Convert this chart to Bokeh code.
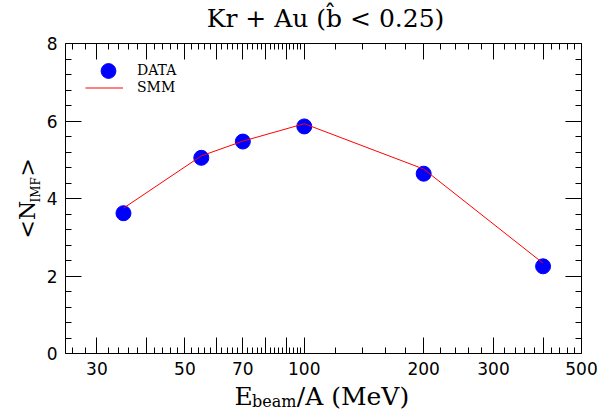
import math
from bokeh.plotting import figure
from bokeh.models import FixedTicker, LogAxis, LinearAxis, Label, Legend, LegendItem
from bokeh.embed import file_html
from bokeh.resources import INLINE

# ---- data ----
energy = [35, 55, 70, 100, 200, 400]            # E_beam/A (MeV)
data_nimf = [3.62, 5.05, 5.47, 5.86, 4.64, 2.25]
smm_nimf = [3.75, 5.10, 5.48, 5.93, 4.76, 2.33]

x_major = [30, 40, 50, 60, 70, 80, 90, 100, 200, 300, 400, 500]
x_labels = {30: "30", 40: "", 50: "50", 60: "", 70: "70", 80: "", 90: "",
            100: "100", 200: "200", 300: "300", 400: "", 500: "500"}
x_minor = ([26, 28] + [v for v in range(32, 100, 2) if v % 10 != 0]
           + [120, 140, 160, 180]
           + [v for v in range(220, 500, 20) if v % 100 != 0])
y_major = [0, 2, 4, 6, 8]
y_minor = [round(0.4 * i, 1) for i in range(1, 20) if i % 5 != 0]

X_MIN, X_MAX = 25, 500
Y_MIN, Y_MAX = 0, 8

title_text = "Kr + Au (b\u0302 < 0.25)"

# ---- geometry: the drawn box sits at these page pixels ----
W, H = 609, 414
FX0, FX1, FY0, FY1 = 65, 581, 43, 353
BASE_SHIFT = 9   # labels render this many px below the requested baseline


def sx(px):
    lo, hi = math.log10(X_MIN), math.log10(X_MAX)
    return 10 ** (lo + (px - FX0) / (FX1 - FX0) * (hi - lo))


def sy(py):
    return Y_MAX - (py - FY0) / (FY1 - FY0) * (Y_MAX - Y_MIN)


# the frame spans the whole canvas; axes are pinned at the box edges
p = figure(width=W, height=H, x_axis_type="log",
           x_range=(sx(0), sx(W)), y_range=(sy(H), sy(0)),
           output_backend="svg", toolbar_location=None,
           min_border=0)
p.title.visible = False
p.grid.visible = False
p.outline_line_color = None
p.background_fill_color = "white"
p.border_fill_color = "white"

xt = FixedTicker(ticks=x_major, minor_ticks=x_minor)
yt = FixedTicker(ticks=y_major, minor_ticks=y_minor)

TICK_FONT = "DejaVu Sans"
SERIF = "DejaVu Serif"


def style_axis(ax, show_labels, loc, bounds):
    ax.fixed_location = loc
    ax.bounds = bounds
    ax.major_tick_in = 16
    ax.major_tick_out = 0
    ax.minor_tick_in = 6
    ax.minor_tick_out = 0
    ax.axis_line_color = "black"
    ax.major_tick_line_color = "black"
    ax.minor_tick_line_color = "black"
    ax.axis_label = None
    if show_labels:
        ax.major_label_text_font = TICK_FONT
        ax.major_label_text_font_size = "17px"
        ax.major_label_text_color = "black"
        ax.major_label_standoff = 8
    else:
        ax.major_label_text_color = None
        ax.major_label_text_alpha = 0


xa = p.xaxis[0]
xa.ticker = xt
xa.major_label_overrides = x_labels
style_axis(xa, True, Y_MIN, (X_MIN, X_MAX))
ya = p.yaxis[0]
ya.ticker = yt
style_axis(ya, True, X_MIN, (Y_MIN, Y_MAX))

top = LogAxis(ticker=xt)
style_axis(top, False, Y_MAX, (X_MIN, X_MAX))
p.add_layout(top, "above")
right = LinearAxis(ticker=yt)
style_axis(right, False, X_MAX, (Y_MIN, Y_MAX))
p.add_layout(right, "right")

# ---- marks ----
r_data = p.scatter(energy, data_nimf, size=15, color="#0000ff")
r_smm = p.line(energy, smm_nimf, line_color="#ff0000", line_width=1)

# legend: one box per entry so the marker can be drawn at full size
leg_data = Legend(items=[LegendItem(label="DATA", renderers=[r_data])],
                  location=(89, H - 88.5), padding=0, margin=0, spacing=0,
                  glyph_width=38, glyph_height=37, label_height=37,
                  label_standoff=10)
leg_smm = Legend(items=[LegendItem(label="SMM", renderers=[r_smm])],
                 location=(85, H - 95.5), padding=0, margin=0, spacing=0,
                 glyph_width=38, glyph_height=17, label_height=17,
                 label_standoff=14)
for lg in (leg_data, leg_smm):
    lg.border_line_color = None
    lg.background_fill_alpha = 0
    lg.label_text_font = SERIF
    lg.label_text_font_size = "14px"
    lg.label_text_color = "black"
    p.add_layout(lg)


def add_text(px, py, text, size, angle=0.0):
    # py is the wanted baseline in page pixels (px for rotated text)
    if angle:
        lx, ly = sx(px - BASE_SHIFT), sy(py)
    else:
        lx, ly = sx(px), sy(py - BASE_SHIFT)
    p.add_layout(Label(x=lx, y=ly, text=text, angle=angle, text_align="left",
                       text_baseline="alphabetic", text_font=SERIF,
                       text_font_size=f"{size}px", text_color="black"))


# ---- title ----
p.add_layout(Label(x=sx(325), y=sy(27 - BASE_SHIFT), text=title_text,
                   text_align="center", text_baseline="alphabetic",
                   text_font=SERIF, text_font_size="25px", text_color="black"))

# x axis label: E_beam/A (MeV)
big, small = 25, 16
x0 = 234
add_text(x0, 405, "E", big)
add_text(x0 + 0.70 * big, 410, "beam", small)
add_text(x0 + 0.70 * big + 2.80 * small, 405, "/A (MeV)", big)

# y axis label: <N_IMF>  (reads bottom to top)
ybig, ysmall = 22, 12
add_text(36, 238, "<N", ybig, math.pi / 2)
add_text(44, 202, "IMF", ysmall, math.pi / 2)
add_text(36, 176, ">", ybig, math.pi / 2)

open("out.html", "w").write(file_html(p, INLINE))
